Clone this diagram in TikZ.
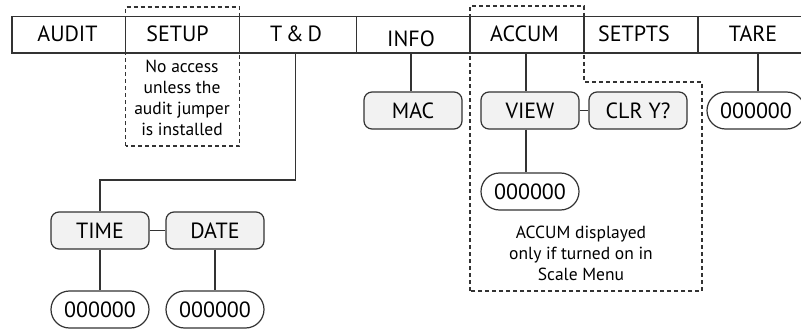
\documentclass[tikz,border=0pt]{standalone}
\usepackage{fontspec}
\setmainfont{PT Sans}
\usetikzlibrary{shapes.misc}
\definecolor{boxfill}{HTML}{F2F2F2}
\definecolor{ink}{HTML}{333333}
\tikzset{
  cell/.style={inner sep=0pt, font=\fontsize{22}{24}\selectfont, text=black},
  menubox/.style={draw=ink, fill=boxfill, rounded corners=8pt, line width=1.2pt,
    minimum width=98pt, minimum height=37pt, inner sep=0pt,
    font=\fontsize{22}{24}\selectfont},
  valbox/.style={draw=ink, fill=white, rounded rectangle, line width=1.2pt,
    minimum width=98pt, minimum height=37pt, inner sep=0pt,
    font=\fontsize{22}{24}\selectfont},
  link/.style={draw=ink, line width=1.2pt},
  dashbox/.style={draw=ink, line width=1.2pt, dash pattern=on 4pt off 3pt},
  note/.style={align=center, inner sep=0pt, font=\fontsize{17.5}{20.9}\selectfont}
}
\begin{document}
\begin{tikzpicture}[x=1pt,y=-1pt]
\useasboundingbox (0,0) rectangle (801,329);
\clip (0,0) rectangle (801,329);
\fill[white] (0,0) rectangle (801,329);
% dashed regions
\draw[dashbox] (125.5,146) -- (125.5,7) -- (239.5,7) -- (239.5,146) -- cycle;
\draw[dashbox] (470,291) -- (470,6) -- (584,6) -- (584,82) -- (702,82) -- (702,291) -- cycle;
% menu bar
\draw[link, fill=white] (12,16.7) rectangle (830,53);
\foreach \xx in {125.5,239.5,356.7,470,584,698} \draw[link] (\xx,16.7) -- (\xx,53);
\node[cell] (audit) at (67.5,34) {AUDIT};
\node[cell] (setup) at (177.5,34) {SETUP};
\node[cell] (td) at (296,34) {T\,\&\,D};
\node[cell] (info) at (411,39) {INFO};
\node[cell] (accum) at (524.5,34) {ACCUM};
\node[cell] (setpts) at (634,34) {SETPTS};
\node[cell] (tare) at (753,34) {TARE};
\coordinate (td-b) at (295.7,53);
\coordinate (info-b) at (411,53);
\coordinate (accum-b) at (526,53);
\coordinate (tare-b) at (758,53);
% notes
\node[note] (setupnote) at (182,98) {No access\\unless the\\audit jumper\\is installed};
\node[note] (accumnote) at (581,253.5) {ACCUM displayed\\only if turned on in\\Scale Menu};
% boxes
\node[menubox] (mac) at (413,110.5) {MAC};
\node[menubox] (view) at (530,110.5) {VIEW};
\node[menubox] (clr) at (638,110.5) {CLR Y?};
\node[valbox] (tareval) at (756,110.5) {000000};
\node[valbox] (accumval) at (530,191.5) {000000};
\node[menubox] (time) at (100,230.5) {TIME};
\node[menubox] (date) at (215,230.5) {DATE};
\node[valbox] (timeval) at (100,309.5) {000000};
\node[valbox] (dateval) at (215,309.5) {000000};
% connectors
\draw[link] (td-b) |- (100,180) -- (time.north);
\draw[link] (info-b) -- (info-b |- mac.north);
\draw[link] (accum-b) -- (accum-b |- view.north);
\draw[link] (accum-b |- view.south) -- (accum-b |- accumval.north);
\draw[link] (tare-b) -- (tare-b |- tareval.north);
\draw[link] (view.east) -- (clr.west);
\draw[link] (time.east) -- (date.west);
\draw[link] (time.south) -- (timeval.north);
\draw[link] (date.south) -- (dateval.north);
\end{tikzpicture}
\end{document}
